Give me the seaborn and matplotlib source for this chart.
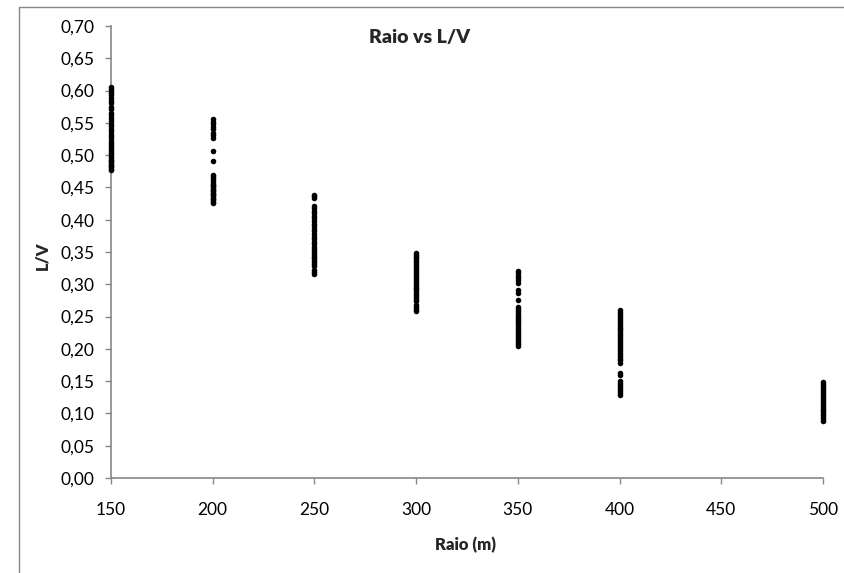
import matplotlib
matplotlib.use("Agg")
import matplotlib.pyplot as plt
from matplotlib.ticker import FuncFormatter, MultipleLocator
from matplotlib.lines import Line2D
import seaborn as sns
import pandas as pd

raio = [150, 200, 250, 300, 350, 400, 500]

lv_150 = [0.606, 0.603, 0.600, 0.597, 0.593, 0.588, 0.584, 0.580, 0.575, 0.571,
          0.566, 0.562, 0.557, 0.553, 0.549, 0.545, 0.541, 0.537, 0.533, 0.529,
          0.526, 0.522, 0.519, 0.516, 0.513, 0.510, 0.507, 0.504, 0.501, 0.498,
          0.496, 0.493, 0.491, 0.489, 0.487, 0.485, 0.483, 0.481, 0.479, 0.477]
lv_200 = [0.556, 0.552, 0.548, 0.544, 0.540, 0.535, 0.531, 0.527, 0.507, 0.491,
          0.470, 0.467, 0.464, 0.461, 0.458, 0.456, 0.454, 0.452, 0.450, 0.448,
          0.446, 0.444, 0.442, 0.440, 0.438, 0.436, 0.434, 0.432, 0.430, 0.428, 0.426]
lv_250 = [0.439, 0.436, 0.433, 0.422, 0.418, 0.414, 0.410, 0.406, 0.402, 0.398,
          0.394, 0.390, 0.386, 0.382, 0.378, 0.374, 0.370, 0.366, 0.362, 0.358,
          0.355, 0.352, 0.349, 0.346, 0.343, 0.340, 0.337, 0.334, 0.331, 0.328,
          0.322, 0.319, 0.316]
lv_300 = [0.349, 0.346, 0.343, 0.340, 0.337, 0.334, 0.331, 0.328, 0.325, 0.322,
          0.319, 0.316, 0.313, 0.310, 0.307, 0.304, 0.301, 0.298, 0.295, 0.292,
          0.289, 0.286, 0.283, 0.280, 0.277, 0.274, 0.268, 0.265, 0.262, 0.259]
lv_350 = [0.320, 0.317, 0.313, 0.310, 0.306, 0.302, 0.291, 0.287, 0.276, 0.265,
          0.262, 0.259, 0.256, 0.253, 0.250, 0.247, 0.244, 0.241, 0.238, 0.235,
          0.232, 0.229, 0.226, 0.223, 0.220, 0.217, 0.214, 0.211, 0.208, 0.205]
lv_400 = [0.260, 0.257, 0.254, 0.251, 0.248, 0.245, 0.242, 0.239, 0.236, 0.233,
          0.230, 0.227, 0.224, 0.221, 0.218, 0.215, 0.212, 0.209, 0.206, 0.203,
          0.200, 0.197, 0.194, 0.191, 0.188, 0.185, 0.182, 0.178, 0.163, 0.160,
          0.150, 0.147, 0.144, 0.141, 0.138, 0.135, 0.132, 0.129]
lv_500 = [0.148, 0.145, 0.142, 0.139, 0.136, 0.133, 0.130, 0.127, 0.124, 0.121,
          0.118, 0.115, 0.112, 0.109, 0.106, 0.103, 0.100, 0.097, 0.094, 0.091, 0.088]

groups = [lv_150, lv_200, lv_250, lv_300, lv_350, lv_400, lv_500]
xs, ys = [], []
for r, vals in zip(raio, groups):
    xs += [r] * len(vals)
    ys += vals
df = pd.DataFrame({"Raio (m)": xs, "L/V": ys})

sns.set_style("white")
plt.rcParams['font.family'] = ['Lato', 'DejaVu Sans']

fig = plt.figure(figsize=(8.45, 5.73), dpi=100)
ax = fig.add_axes([111/845, 1-478/573, (823-111)/845, (478-26)/573])

sns.scatterplot(data=df, x="Raio (m)", y="L/V", ax=ax, color="black",
                s=16, linewidth=0, legend=False, clip_on=False, zorder=5)

ax.set_xlim(150, 500)
ax.set_ylim(0, 0.70)
ax.xaxis.set_major_locator(MultipleLocator(50))
ax.yaxis.set_major_locator(MultipleLocator(0.05))
ax.yaxis.set_major_formatter(FuncFormatter(lambda v, p: f"{v:.2f}".replace('.', ',')))
ax.xaxis.set_major_formatter(FuncFormatter(lambda v, p: f"{int(round(v))}"))

gray = "#868686"
for s in ["top", "right"]:
    ax.spines[s].set_visible(False)
for s in ["left", "bottom"]:
    ax.spines[s].set_color(gray)
    ax.spines[s].set_linewidth(1.2)
ax.tick_params(axis="both", direction="out", length=4, width=1, color=gray,
               labelsize=12.5, labelcolor="black")
ax.tick_params(axis="y", pad=8, left=True)
ax.tick_params(axis="x", pad=13, bottom=True)
ax.set_xlabel("")
ax.set_ylabel("")

fig.text(420/845, 1-37/573, "Raio vs L/V", ha="center", va="center",
         fontsize=14, fontweight="heavy")
fig.text(466/845, 1-545/573, "Raio (m)", ha="center", va="center",
         fontsize=12, fontweight="heavy")
fig.text(42/845, 1-256/573, "L/V", ha="center", va="center",
         fontsize=12, fontweight="heavy", rotation=90)

# outer chart frame (left and top edges visible)
fx = 19/845
fy = 1-7/573
fig.add_artist(Line2D([fx, fx], [0, fy], transform=fig.transFigure, color=gray, lw=1))
fig.add_artist(Line2D([fx, 1], [fy, fy], transform=fig.transFigure, color=gray, lw=1))

fig.savefig("out.png", dpi=100)
